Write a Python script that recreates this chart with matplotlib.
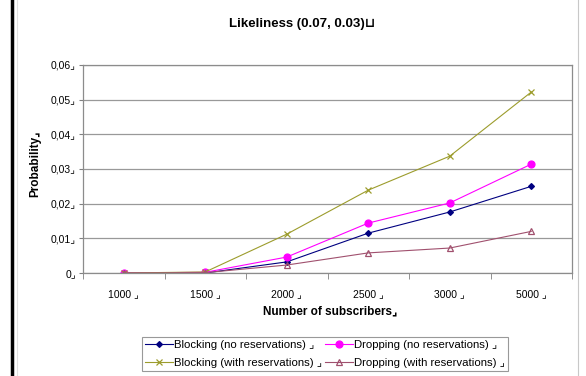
import matplotlib
matplotlib.use("Agg")
import matplotlib.pyplot as plt
from matplotlib.lines import Line2D

plt.rcParams["font.family"] = ["Liberation Sans", "DejaVu Sans"]

# data
subscribers = ["1000", "1500", "2000", "2500", "3000", "5000"]
blocking_no_res = [0.0, 0.0, 0.0032, 0.0115, 0.0176, 0.0250]
dropping_no_res = [0.0, 0.0002, 0.0046, 0.0144, 0.0202, 0.0314]
blocking_with_res = [0.0, 0.0003, 0.0112, 0.0239, 0.0337, 0.0522]
dropping_with_res = [0.0, 0.0001, 0.0023, 0.0058, 0.0072, 0.0120]
y_ticks = [0, 0.01, 0.02, 0.03, 0.04, 0.05, 0.06]
y_tick_labels = ["0", "0,01", "0,02", "0,03", "0,04", "0,05", "0,06"]

mark = "\u231f"

fig = plt.figure(figsize=(5.86, 3.76), dpi=100)
ax = fig.add_axes([83 / 586, 1 - 273 / 376, (572 - 83) / 586, (273 - 65) / 376])

x = list(range(len(subscribers)))
series = [
    (blocking_no_res, "Blocking (no reservations)", "#000080", "D", 3, "#000080"),
    (dropping_no_res, "Dropping (no reservations)", "#ff00ff", "o", 5, "#ff00ff"),
    (blocking_with_res, "Blocking (with reservations)", "#9c9c2c", "x", 5, "#9c9c2c"),
    (dropping_with_res, "Dropping (with reservations)", "#a0506e", "^", 5, "none"),
]
handles = []
for vals, label, col, m, ms, fc in series:
    ln, = ax.plot(x, vals, color=col, lw=0.8, marker=m, ms=ms,
                  mfc=fc, mec=col, mew=0.9, label=label + " " + mark)
    handles.append(ln)

ax.set_xlim(-0.5, len(subscribers) - 0.5)
ax.set_ylim(0, 0.06)
ax.set_xticks(x)
ax.set_xticklabels([s + " " + mark for s in subscribers], fontsize=7.5)
ax.set_xticks([i + 0.5 for i in range(-1, len(subscribers))], minor=True)
ax.tick_params(axis="x", which="major", length=0, pad=12)
ax.tick_params(axis="x", which="minor", length=4, color="#808080", direction="out")
ax.set_yticks(y_ticks)
ax.set_yticklabels([l + mark for l in y_tick_labels], fontsize=7.5)
ax.tick_params(axis="y", length=3, color="#808080", pad=2)
ax.grid(axis="y", color="#999999", lw=0.9)
ax.set_axisbelow(True)
for sp in ax.spines.values():
    sp.set_color("#8c8c8c")
    sp.set_linewidth(0.9)

fig.text(302 / 586, 1 - 24 / 376, "Likeliness (0.07, 0.03)" + "\u2294",
         ha="center", va="center", fontsize=9.5, fontweight="bold")
fig.text(330 / 586, 1 - 311 / 376, "Number of subscribers" + mark,
         ha="center", va="center", fontsize=8.5, fontweight="bold")
fig.text(35 / 586, 1 - 164 / 376, "Probability" + mark, rotation=90,
         ha="center", va="center", fontsize=8.5, fontweight="bold")

# column-major order so rows read: no reservations, then with reservations
leg_handles = [handles[0], handles[2], handles[1], handles[3]]
leg = fig.legend(handles=leg_handles, loc="center", ncol=2,
                 bbox_to_anchor=(325 / 586, 1 - 354 / 376), fontsize=8.2,
                 frameon=True, fancybox=False, handlelength=2.4,
                 handletextpad=0.1, columnspacing=0.3, labelspacing=0.75,
                 borderpad=0.25, borderaxespad=0)
leg.get_frame().set_edgecolor("#808080")
leg.get_frame().set_linewidth(0.8)

# page borders around the chart
fig.add_artist(Line2D([12 / 586, 12 / 586], [0, 1], color="black", lw=2.5))
fig.add_artist(Line2D([17 / 586, 17 / 586], [0, 1], color="#e0e0e0", lw=0.8))
fig.add_artist(Line2D([578 / 586, 578 / 586], [0, 1], color="#c8c8c8", lw=0.8))

fig.savefig("out.png", dpi=100)
